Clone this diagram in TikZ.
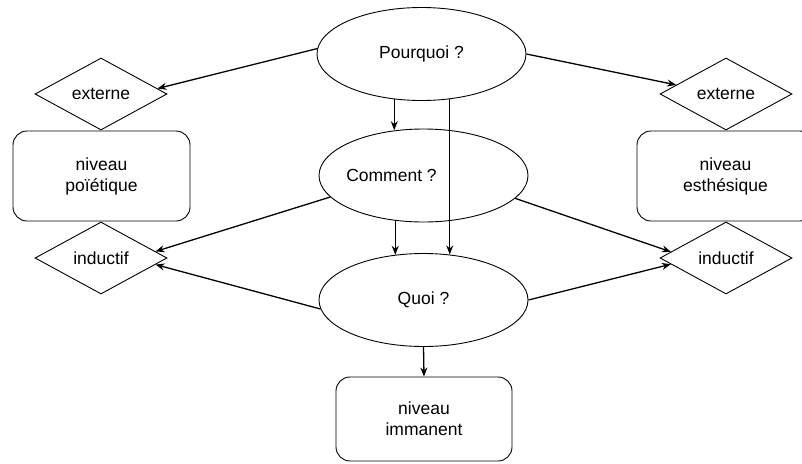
\documentclass[tikz,border=0pt]{standalone}
\usepackage{fontspec}
\setmainfont{Liberation Sans}
\usetikzlibrary{shapes.geometric,arrows.meta,calc}
\begin{document}
\begin{tikzpicture}[x=1pt,y=-1pt,
  every node/.style={font=\fontsize{17.5}{21}\selectfont},
  question/.style={ellipse,draw,line width=0.9pt,minimum width=209pt,minimum height=93pt,inner sep=0pt},
  choice/.style={diamond,draw,line width=0.9pt,shape aspect=1.83,inner sep=0pt,minimum width=132pt,minimum height=72pt},
  level/.style={rectangle,draw,line width=0.9pt,rounded corners=14pt,align=center,minimum width=177pt,minimum height=90pt,inner sep=0pt},
  arr/.style={-{Stealth[length=9pt,width=7pt]},line width=1.3pt}]
\useasboundingbox (0,0) rectangle (802,463);

% central column of questions
\node[question] (pq) at (421.5,54) {Pourquoi ?};
\node[question,label={[xshift=-32pt]center:Comment ?}] (cm) at (423.5,175.5) {};
\node[question] (qu) at (423.5,300) {Quoi ?};

% left side
\node[choice] (extL) at (101,94) {externe};
\node[level] (poi) at (101.5,176) {niveau\\poïétique};
\node[choice] (indL) at (101,258) {inductif};

% right side (box runs past the page edge)
\node[choice] (extR) at (726,94) {externe};
\node[level] (est) at (725.5,176) {niveau\\esthésique};
\node[choice] (indR) at (726,258) {inductif};

% bottom
\node[level,minimum width=176pt,minimum height=84pt] (imm) at (424,419) {niveau\\immanent};

% connectors
\draw[arr] (pq.177) -- ($(extL.north)!0.85!(extL.east)$);
\draw[arr] (pq.east) -- ($(extR.north)!0.75!(extR.west)$);
\draw[arr] (pq.239) -- (pq.239 |- cm.121);
\draw[arr] (pq.302) -- (pq.302 |- qu.61);
\draw[arr] (cm.238) -- (cm.238 |- qu.122);
\draw[arr] (cm.193) -- ($(indL.north)!0.82!(indL.east)$);
\draw[arr] (cm.346) -- ($(indR.north)!0.83!(indR.west)$);
\draw[arr] (qu.185) -- ($(indL.east)!0.18!(indL.south)$);
\draw[arr] (qu.east) -- ($(indR.west)!0.17!(indR.south)$);
\draw[arr] (qu.south) -- (imm.north);
\end{tikzpicture}
\end{document}
